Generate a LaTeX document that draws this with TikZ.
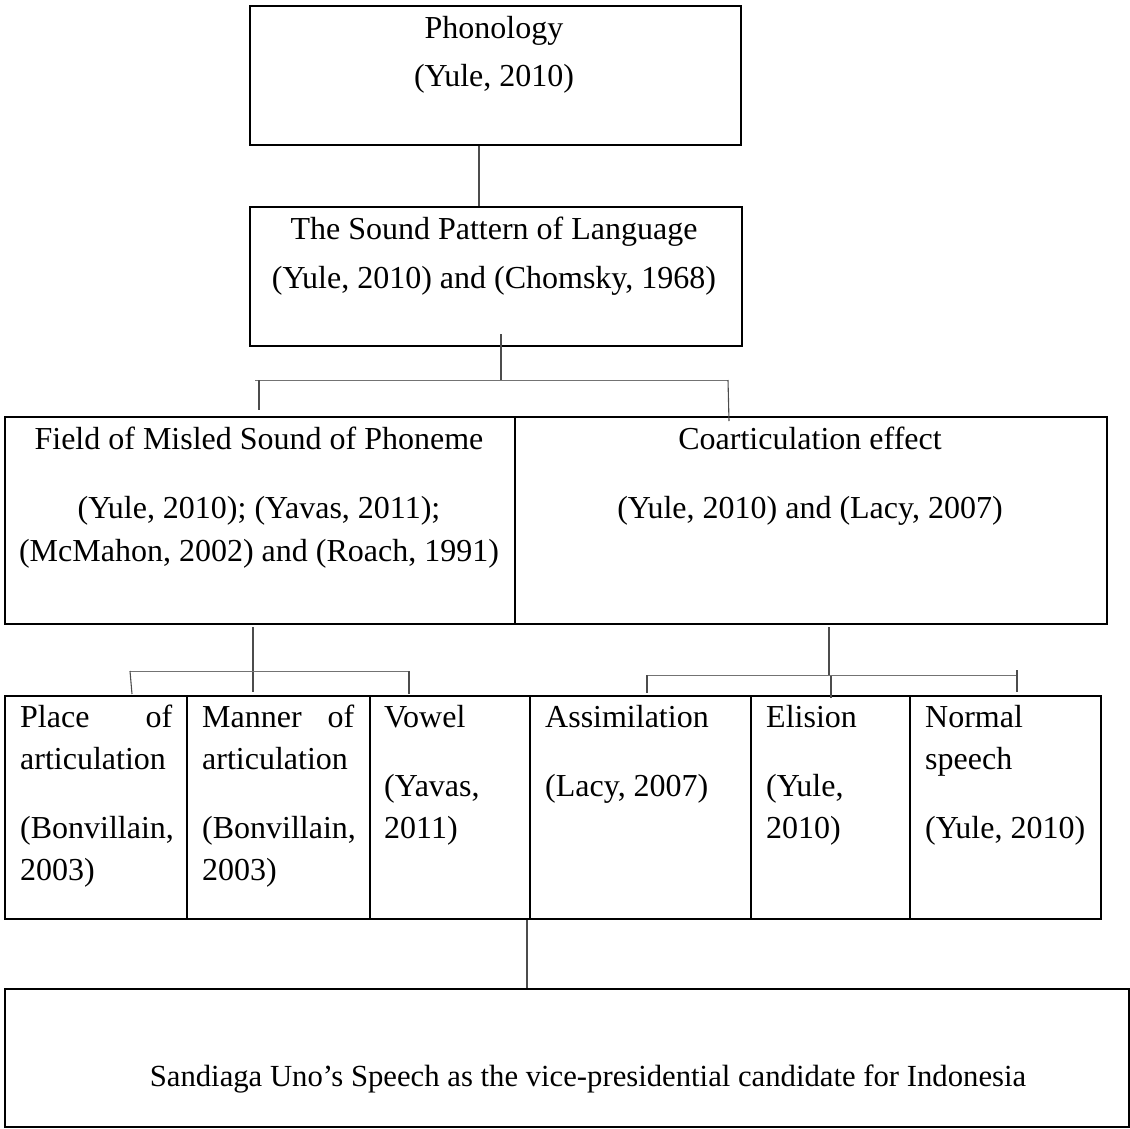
\documentclass[tikz,border=0pt]{standalone}
\usepackage{fontspec}
\setmainfont{Liberation Serif}
\begin{document}
\begin{tikzpicture}[x=1pt,y=-1pt,
  box/.style={draw=black,line width=1.6pt,inner sep=0pt,anchor=north west},
  conn/.style={draw=black!70,line width=1.1pt},
  bar/.style={draw=black!55,line width=1pt},
  txt/.style={inner sep=0pt,font=\fontsize{32}{38}\selectfont},
  ctr/.style={txt,anchor=base},
  lft/.style={txt,anchor=base west}]
\useasboundingbox (0,0) rectangle (1130,1128);
% boxes
\node[box,minimum width=491pt,minimum height=139pt] (b1) at (249,5) {};
\node[box,minimum width=492pt,minimum height=139pt] (b2) at (249,206) {};
\node[box,minimum width=510pt,minimum height=207pt] (b3) at (4,416) {};
\node[box,minimum width=592pt,minimum height=207pt] (b4) at (514,416) {};
\node[box,minimum width=182pt,minimum height=223pt] (r1) at (4,695) {};
\node[box,minimum width=183pt,minimum height=223pt] (r2) at (186,695) {};
\node[box,minimum width=160pt,minimum height=223pt] (r3) at (369,695) {};
\node[box,minimum width=221pt,minimum height=223pt] (r4) at (529,695) {};
\node[box,minimum width=159pt,minimum height=223pt] (r5) at (750,695) {};
\node[box,minimum width=191pt,minimum height=223pt] (r6) at (909,695) {};
\node[box,minimum width=1124pt,minimum height=138pt] (b5) at (4,988) {};
% texts
\node[ctr] (t1a) at (494,38) {Phonology};
\node[ctr] (t1b) at (494,86) {(Yule, 2010)};
\node[ctr] (t2a) at (494,239) {The Sound Pattern of Language};
\node[ctr] (t2b) at (494,288) {(Yule, 2010) and (Chomsky, 1968)};
\node[ctr] (t3a) at (259,449) {Field of Misled Sound of Phoneme};
\node[ctr] (t3b) at (259,518) {(Yule, 2010); (Yavas, 2011);};
\node[ctr] (t3c) at (259,561) {(McMahon, 2002) and (Roach, 1991)};
\node[ctr] (t4a) at (810,449) {Coarticulation effect};
\node[ctr] (t4b) at (810,518) {(Yule, 2010) and (Lacy, 2007)};
\node[lft] (p1) at (20,727) {\hbox to 152pt{Place\hfill of}};
\node[lft] (p2) at (20,769) {articulation};
\node[lft] (p3) at (20,838) {(Bonvillain,};
\node[lft] (p4) at (20,880) {2003)};
\node[lft] (m1) at (202,727) {\hbox to 152pt{Manner\hfill of}};
\node[lft] (m2) at (202,769) {articulation};
\node[lft] (m3) at (202,838) {(Bonvillain,};
\node[lft] (m4) at (202,880) {2003)};
\node[lft] (v1) at (384,727) {Vowel};
\node[lft] (v2) at (384,796) {(Yavas,};
\node[lft] (v3) at (384,838) {2011)};
\node[lft] (a1) at (545,727) {Assimilation};
\node[lft] (a2) at (545,796) {(Lacy, 2007)};
\node[lft] (e1) at (766,727) {Elision};
\node[lft] (e2) at (766,796) {(Yule,};
\node[lft] (e3) at (766,838) {2010)};
\node[lft] (n1) at (925,727) {Normal};
\node[lft] (n2) at (925,769) {speech};
\node[lft] (n3) at (925,838) {(Yule, 2010)};
\node[ctr,font=\fontsize{30.7}{36}\selectfont] (t5) at (588,1086) {Sandiaga Uno’s Speech as the vice-presidential candidate for Indonesia};
% junction coordinates
\coordinate (j1) at (479,0);
\coordinate (j2top) at (501,334);
\coordinate (j2) at (501,380);
\coordinate (j2l) at (259,380);
\coordinate (j2r) at (728,380);
\coordinate (j2le) at (259,410);
\coordinate (j2re) at (729,421);
\coordinate (j3top) at (253,627);
\coordinate (j3) at (253,671);
\coordinate (j3bot) at (253,692);
\coordinate (j3l) at (130,671);
\coordinate (j3le) at (132,694);
\coordinate (j3r) at (409,671);
\coordinate (j3re) at (409,694);
\coordinate (j4top) at (829,627);
\coordinate (j4) at (829,675);
\coordinate (j4m) at (831,675);
\coordinate (j4bot) at (831,698);
\coordinate (j4l) at (647,675);
\coordinate (j4le) at (647,693);
\coordinate (j4r) at (1016,675);
\coordinate (j4rt) at (1017,670);
\coordinate (j4re) at (1017,692);
\coordinate (j5) at (527,0);
% connectors
\draw[conn] (b1.south -| j1) -- (b2.north -| j1);
\draw[conn] (j2top) -- (j2);
\draw[bar] (255,380) -- (j2r);
\draw[conn] (j2l) -- (j2le);
\draw[conn] (j2r) -- (j2re);
\draw[conn] (j3top) -- (j3bot);
\draw[bar] (j3l) -- (j3r);
\draw[conn] (j3l) -- (j3le);
\draw[conn] (j3r) -- (j3re);
\draw[conn] (j4top) -- (j4);
\draw[conn] (j4m) -- (j4bot);
\draw[bar] (j4l) -- (j4r);
\draw[conn] (j4l) -- (j4le);
\draw[conn] (j4rt) -- (j4re);
\draw[conn] (r4.south west -| j5) -- (b5.north -| j5);
\end{tikzpicture}
\end{document}
